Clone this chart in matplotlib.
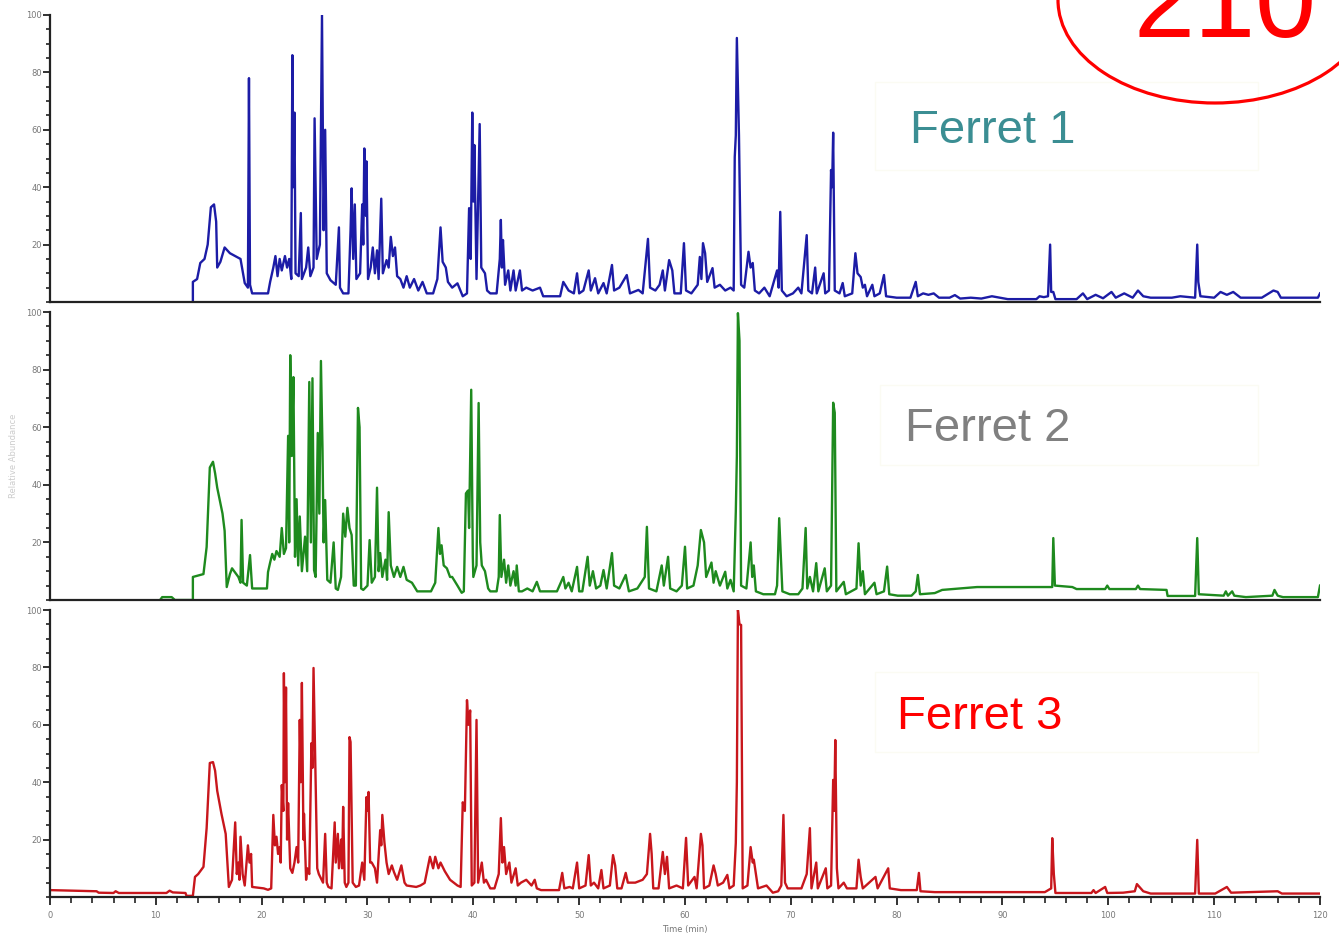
import numpy as np
import matplotlib
matplotlib.use('Agg')
import matplotlib.pyplot as plt
from matplotlib.patches import Ellipse, Rectangle
from matplotlib.ticker import MultipleLocator

# Chromatogram traces: (time in min, relative intensity)
ferret1_trace = [
    (13.5, 0), (13.5, 7), (13.9, 8), (14.2, 13.6), (14.6, 15), (14.9, 20), (15.2, 33), (15.5, 34),
    (15.7, 28), (15.8, 12), (16.1, 14), (16.5, 19), (17.0, 17), (17.5, 16), (18.0, 15), (18.4, 6.6),
    (18.7, 5), (18.8, 78), (18.9, 6), (19.1, 3), (20.6, 3), (20.8, 7), (21.1, 12), (21.3, 16),
    (21.5, 9), (21.7, 15), (21.9, 11), (22.2, 16), (22.4, 12), (22.6, 15), (22.8, 8), (22.9, 86),
    (23.0, 40), (23.1, 66), (23.2, 10), (23.5, 9), (23.7, 31), (23.8, 8), (24.2, 12), (24.4, 19),
    (24.6, 9), (24.9, 12), (25.0, 64), (25.2, 15), (25.5, 20), (25.7, 100), (25.85, 25), (26.0, 60),
    (26.15, 10), (26.5, 7.6), (27.0, 6), (27.3, 26), (27.4, 5), (27.7, 3), (28.2, 3), (28.4, 25),
    (28.5, 39.6), (28.65, 15), (28.8, 34), (28.95, 8), (29.3, 10), (29.5, 34), (29.6, 20), (29.7, 53.5),
    (29.85, 30), (29.9, 49), (30.05, 8), (30.3, 12), (30.5, 19), (30.7, 10), (30.9, 18), (31.05, 8),
    (31.3, 36), (31.45, 10), (31.8, 14.6), (32.0, 12), (32.2, 22.7), (32.4, 16), (32.6, 19), (32.8, 9),
    (33.1, 8), (33.4, 5), (33.7, 9), (34.0, 5), (34.4, 8), (34.8, 4), (35.2, 7), (35.6, 3),
    (36.2, 3), (36.6, 8), (36.9, 26), (37.1, 14), (37.4, 12), (37.6, 7), (38.0, 5), (38.5, 6.5),
    (39.0, 2), (39.4, 3), (39.6, 32.7), (39.75, 15), (39.9, 66), (40.0, 35), (40.1, 54.7), (40.3, 8),
    (40.6, 62), (40.75, 12), (41.1, 10), (41.3, 4), (41.6, 3), (42.2, 3), (42.5, 15), (42.6, 28.6),
    (42.7, 12), (42.8, 21.6), (43.0, 6), (43.3, 11), (43.5, 4), (43.8, 11), (44.0, 4), (44.4, 11),
    (44.6, 4), (45.0, 5), (45.6, 4), (46.3, 5), (46.6, 2), (48.2, 2), (48.5, 7), (49.0, 4),
    (49.5, 3), (49.8, 10), (50.0, 3), (50.4, 4), (50.9, 11), (51.1, 4), (51.5, 8.3), (51.8, 3),
    (52.3, 6.6), (52.6, 3), (53.1, 12.9), (53.3, 4), (53.8, 5), (54.5, 9.4), (54.8, 3), (55.6, 4.2),
    (56.0, 3), (56.4, 18), (56.5, 22), (56.7, 5), (57.2, 4), (57.6, 6), (57.9, 11), (58.1, 4),
    (58.5, 14.6), (58.8, 11), (59.0, 3), (59.6, 3), (59.9, 20.5), (60.1, 4), (60.6, 3), (61.2, 6),
    (61.4, 15.7), (61.55, 8), (61.7, 20.5), (61.9, 17), (62.1, 7), (62.6, 11.8), (62.8, 5), (63.3, 6),
    (63.8, 4), (64.3, 5), (64.6, 4), (64.7, 50.5), (64.8, 58), (64.9, 92), (65.0, 75), (65.1, 58),
    (65.3, 6), (65.6, 5), (66.0, 17.5), (66.2, 12), (66.4, 13.6), (66.6, 4), (67.0, 3), (67.5, 5),
    (68.0, 2), (68.7, 11), (68.85, 5), (69.0, 31.4), (69.15, 4), (69.6, 2), (70.2, 3), (70.7, 5),
    (71.0, 3), (71.5, 23.3), (71.65, 4), (72.0, 3), (72.3, 12), (72.45, 3), (73.1, 10), (73.25, 3),
    (73.6, 4), (73.8, 46), (73.9, 40), (74.0, 59), (74.15, 4), (74.6, 3), (74.9, 6.6), (75.1, 2),
    (75.8, 3), (76.1, 17), (76.3, 10), (76.6, 8.7), (76.8, 5), (77.0, 6), (77.2, 2), (77.7, 6),
    (77.9, 2), (78.4, 3), (78.8, 9.4), (79.0, 2), (80.0, 1.5), (81.3, 1.5), (81.8, 7), (82.0, 2),
    (82.5, 3), (83.0, 2.5), (83.5, 3), (84.0, 1.5), (85.0, 1.5), (85.5, 2.4), (86.0, 1.2), (87.0, 1.5),
    (88.0, 1.2), (89.0, 2), (90.5, 1), (93.2, 1), (93.5, 2), (93.9, 1.7), (94.3, 2), (94.5, 20),
    (94.6, 3.5), (94.8, 3.5), (95.0, 1), (97.0, 1), (97.6, 3), (98.0, 1), (98.8, 2.5), (99.5, 1.3),
    (100.3, 3.5), (100.7, 1.5), (101.5, 3), (102.3, 1.5), (102.8, 4), (103.3, 2), (104.0, 1.5), (106.0, 1.5),
    (106.8, 2), (108.2, 1.5), (108.4, 20), (108.5, 7), (108.7, 2), (110.0, 1.5), (110.6, 3.5), (111.2, 2.5),
    (111.8, 3.5), (112.5, 1.5), (114.5, 1.5), (115.6, 4), (116.0, 3.5), (116.3, 1.5), (118.0, 1.5), (119.8, 1.5),
    (120.0, 3),
]

ferret2_trace = [
    (10.4, 0), (10.6, 1), (11.5, 1), (11.8, 0), (13.5, 0), (13.5, 8), (14.0, 8.5), (14.5, 9),
    (14.8, 18.4), (15.1, 46), (15.4, 48), (15.6, 44), (15.8, 39), (16.3, 30), (16.5, 24), (16.7, 4.5),
    (17.0, 9), (17.2, 11), (17.8, 8), (18.0, 6), (18.1, 27.8), (18.25, 6), (18.6, 5), (18.9, 15.6),
    (19.1, 4), (20.5, 4), (20.6, 9.7), (20.8, 13), (21.0, 16), (21.2, 14), (21.4, 17), (21.7, 15),
    (21.9, 25), (22.1, 16), (22.3, 18), (22.5, 57), (22.6, 20), (22.7, 85), (22.85, 50), (23.0, 77.4),
    (23.15, 15), (23.3, 35), (23.45, 12), (23.6, 29), (23.8, 10), (24.1, 22), (24.3, 10), (24.5, 75.7),
    (24.65, 20), (24.8, 77), (24.95, 10.4), (25.1, 8), (25.3, 58), (25.45, 30), (25.6, 83), (25.75, 52),
    (25.85, 20), (26.0, 34.7), (26.2, 7), (26.5, 6), (26.8, 20), (27.0, 4), (27.2, 3.5), (27.5, 8),
    (27.7, 30), (27.9, 22), (28.1, 32), (28.3, 25), (28.5, 22.6), (28.7, 5), (28.9, 5), (29.1, 66.7),
    (29.25, 60), (29.4, 4), (29.6, 3.5), (30.0, 5), (30.2, 20.8), (30.4, 6), (30.7, 8), (30.9, 39),
    (31.05, 10), (31.2, 16.3), (31.4, 8), (31.7, 14), (31.85, 7), (32.0, 30.5), (32.2, 12), (32.5, 8),
    (32.8, 11.5), (33.1, 8), (33.4, 11.5), (33.7, 7), (34.2, 6), (34.7, 3), (35.6, 3), (36.0, 3),
    (36.4, 6), (36.7, 25), (36.85, 16), (37.0, 19), (37.2, 12), (37.5, 11), (37.8, 8), (38.0, 8),
    (38.5, 5), (38.9, 2.5), (39.1, 3), (39.3, 37), (39.5, 38), (39.6, 25), (39.8, 73), (39.95, 15),
    (40.0, 8), (40.3, 12), (40.5, 68.4), (40.65, 20), (40.8, 12), (41.1, 10), (41.4, 4), (41.6, 3),
    (42.2, 3), (42.4, 8), (42.5, 29.5), (42.65, 8), (42.9, 14), (43.1, 6), (43.3, 12), (43.5, 5),
    (43.8, 10), (44.0, 5), (44.1, 12), (44.3, 3), (44.6, 3), (45.1, 4), (45.6, 3), (46.0, 6.3),
    (46.3, 3), (47.9, 3), (48.5, 8), (48.7, 4), (49.0, 6), (49.3, 3), (49.8, 11.5), (50.0, 3),
    (50.3, 3), (50.8, 15), (51.0, 5), (51.3, 10), (51.6, 4), (52.0, 5), (52.3, 10.4), (52.6, 4),
    (53.1, 16.3), (53.3, 5), (53.8, 4), (54.4, 8.7), (54.7, 3), (55.5, 4), (56.2, 8), (56.4, 25.4),
    (56.6, 4), (57.3, 3), (57.8, 12), (58.0, 5), (58.4, 15), (58.6, 4), (59.2, 3), (59.7, 5),
    (60.0, 18.5), (60.2, 4), (60.8, 5), (61.2, 12), (61.5, 24.3), (61.8, 20), (62.0, 8), (62.5, 13),
    (62.7, 6), (62.9, 10), (63.3, 5), (63.8, 9.8), (64.0, 4), (64.3, 7), (64.6, 3), (64.8, 30.6),
    (64.9, 50), (65.0, 99.6), (65.15, 90), (65.3, 5), (65.8, 4), (66.2, 20), (66.35, 8), (66.5, 12),
    (66.7, 3), (67.4, 2), (68.5, 2), (68.7, 5), (68.9, 28.4), (69.0, 20), (69.2, 3), (69.9, 2),
    (70.7, 2), (71.1, 4), (71.4, 25), (71.55, 4), (71.8, 8), (72.1, 3), (72.4, 12.8), (72.6, 3),
    (73.2, 11), (73.4, 3), (73.8, 5), (74.0, 68.5), (74.15, 65), (74.3, 3), (75.0, 6.3), (75.2, 2),
    (76.2, 4), (76.4, 19.7), (76.6, 5), (76.8, 10), (77.0, 2), (77.9, 6), (78.1, 2), (78.8, 3),
    (79.1, 11.6), (79.3, 2), (80.1, 1.5), (81.4, 1.5), (81.8, 3), (82.0, 8.7), (82.2, 2), (83.6, 2.4),
    (84.3, 3.5), (86.0, 4), (87.6, 4.5), (90.0, 4.5), (94.0, 4.5), (94.7, 4.5), (94.8, 21.5), (94.95, 5),
    (96.6, 4.5), (97.0, 3.8), (99.7, 3.8), (99.9, 5), (100.1, 3.8), (102.6, 3.8), (102.8, 5), (103.0, 3.8),
    (105.5, 3.5), (105.6, 1.4), (108.2, 1.4), (108.4, 21.5), (108.55, 2), (110.9, 1.5), (111.1, 3), (111.3, 1.5),
    (111.7, 3), (111.9, 1.5), (113.0, 1), (115.5, 1.5), (115.7, 3.5), (116.0, 1.5), (116.5, 1), (119.8, 1),
    (120.0, 5),
]

ferret3_trace = [
    (0.0, 2.4), (4.4, 2), (4.6, 1.5), (6.0, 1.4), (6.2, 2), (6.5, 1.4), (11.0, 1.4), (11.3, 2.2),
    (11.6, 1.6), (12.8, 1.4), (12.9, 0.4), (13.5, 0.4), (13.7, 7), (14.0, 8), (14.5, 10.5), (14.8, 24),
    (15.1, 46.7), (15.4, 47), (15.6, 44), (15.8, 37), (16.2, 29), (16.6, 22), (16.9, 3.5), (17.2, 6),
    (17.5, 26), (17.65, 8), (17.8, 12), (17.9, 6), (18.0, 21), (18.2, 8), (18.4, 4), (18.7, 18),
    (18.85, 12), (19.0, 15), (19.1, 3.5), (20.2, 3), (20.6, 2.5), (20.9, 3), (21.1, 28.6), (21.25, 18),
    (21.4, 21), (21.55, 15), (21.7, 17.4), (21.8, 12), (21.9, 39), (22.05, 30), (22.1, 78), (22.2, 40),
    (22.3, 73), (22.4, 20), (22.5, 32.7), (22.7, 10), (22.9, 8.4), (23.1, 12), (23.3, 17.4), (23.45, 12),
    (23.6, 61.7), (23.7, 40), (23.8, 74.6), (23.95, 20), (24.0, 29), (24.2, 6), (24.3, 10), (24.5, 8),
    (24.7, 53.6), (24.8, 45), (24.9, 79.8), (25.0, 60), (25.1, 40.8), (25.25, 10), (25.4, 8), (25.8, 5),
    (26.0, 22), (26.15, 5), (26.3, 3.5), (26.6, 3), (26.9, 26), (27.0, 12), (27.2, 22), (27.3, 10),
    (27.5, 20), (27.6, 10), (27.7, 31.4), (27.85, 5), (28.0, 3.5), (28.2, 5), (28.3, 55.7), (28.4, 54),
    (28.6, 5), (28.9, 3.5), (29.2, 4), (29.5, 12), (29.7, 6), (29.9, 34.8), (30.0, 30), (30.1, 36.6),
    (30.25, 12), (30.4, 12), (30.7, 10), (30.9, 5), (31.2, 23.3), (31.3, 18), (31.4, 28.6), (31.6, 19),
    (31.8, 12), (32.0, 8), (32.3, 11), (32.5, 8.7), (32.8, 6), (33.2, 11), (33.5, 5), (33.7, 4),
    (34.6, 3.5), (35.0, 4), (35.4, 4.9), (35.9, 14), (36.2, 10), (36.4, 14), (36.7, 10), (36.9, 12),
    (37.3, 9), (37.8, 6), (38.5, 4), (38.8, 3.5), (39.0, 33), (39.2, 30), (39.4, 68.6), (39.55, 60),
    (39.7, 65), (39.85, 4), (40.1, 5), (40.3, 61.7), (40.45, 5), (40.8, 12), (41.0, 5), (41.2, 6),
    (41.6, 3), (42.0, 3), (42.4, 8), (42.6, 27.5), (42.75, 12), (42.9, 17.4), (43.1, 8), (43.4, 12),
    (43.6, 5), (44.0, 10), (44.2, 4), (44.5, 5), (45.0, 6), (45.5, 4), (45.8, 6), (46.0, 3),
    (46.4, 2.4), (48.1, 2.4), (48.4, 8.4), (48.6, 3), (49.1, 3.5), (49.4, 3), (49.8, 12), (50.0, 3),
    (50.6, 4), (50.9, 14.6), (51.1, 4), (51.4, 5), (51.8, 3), (52.1, 9.4), (52.3, 3), (52.9, 4),
    (53.2, 14.6), (53.4, 11), (53.6, 3), (54.0, 3), (54.4, 8.4), (54.6, 5), (55.3, 5), (56.0, 6),
    (56.4, 8), (56.7, 22), (56.85, 15), (57.0, 3), (57.5, 3), (57.9, 15.7), (58.1, 8), (58.3, 14),
    (58.5, 3), (59.2, 4), (59.8, 3), (60.1, 20.6), (60.3, 4), (60.9, 7), (61.1, 3), (61.5, 22),
    (61.65, 18), (61.8, 3), (62.3, 4), (62.7, 11), (62.9, 8), (63.1, 4), (63.6, 5), (64.0, 7.7),
    (64.2, 3), (64.6, 4), (64.8, 18.8), (64.9, 40), (65.0, 100), (65.15, 95), (65.3, 94.8), (65.45, 3),
    (65.9, 4), (66.2, 17.4), (66.4, 12), (66.5, 13), (66.7, 8), (66.9, 3), (67.7, 4), (68.3, 1.5),
    (68.8, 2), (69.1, 4), (69.3, 28.6), (69.45, 5), (69.7, 3), (71.0, 3), (71.5, 8), (71.8, 24),
    (71.95, 3), (72.4, 12), (72.55, 3), (73.3, 10), (73.45, 3), (73.8, 4), (74.0, 40.8), (74.1, 30),
    (74.2, 54.7), (74.35, 10), (74.5, 3), (75.0, 5), (75.3, 3), (76.2, 3), (76.4, 13), (76.6, 7),
    (76.8, 3), (78.0, 7), (78.2, 3), (79.2, 10), (79.35, 3), (80.4, 2.4), (81.9, 2.4), (82.1, 8.4),
    (82.25, 2), (83.6, 1.7), (94.0, 1.7), (94.6, 3), (94.7, 20.5), (94.85, 8), (95.0, 1.4), (98.4, 1.4),
    (98.6, 2.4), (98.8, 1.4), (99.7, 3.5), (99.9, 1.4), (101.4, 1.5), (102.5, 2), (102.7, 4.5), (103.3, 2),
    (104.0, 1.2), (106.3, 1.2), (108.2, 1.2), (108.4, 19.9), (108.55, 1.2), (110.1, 1.2), (111.2, 3.5), (111.6, 1.5),
    (116.0, 2), (116.4, 1.2), (120.0, 1.2),
]

panel_names = ['Ferret 1', 'Ferret 2', 'Ferret 3']
line_colors = ['#1c1ca6', '#1e8a1e', '#c8161c']
name_colors = ['#3b8e93', '#808080', '#ff0000']
y_ticks = [20, 40, 60, 80, 100]
x_ticks = list(range(0, 121, 10))
wavelength = '210'

W, H = 1339, 948
fig = plt.figure(figsize=(W / 100, H / 100), dpi=100)
fig.patch.set_facecolor('white')

# panel extents in pixels (top, bottom)
left_px, right_px = 50, 1320
panel_px = [(15, 302), (312, 600), (610, 897)]

traces = [ferret1_trace, ferret2_trace, ferret3_trace]
axes = []
for i, (top, bot) in enumerate(panel_px):
    ax = fig.add_axes([left_px / W, 1 - bot / H, (right_px - left_px) / W, (bot - top) / H])
    t, y = np.array(traces[i]).T
    ax.plot(t, y, color=line_colors[i], linewidth=1.7, zorder=2)
    ax.set_xlim(0, 120)
    ax.set_ylim(0, 100)
    for s in ['top', 'right']:
        ax.spines[s].set_visible(False)
    for s in ['left', 'bottom']:
        ax.spines[s].set_linewidth(1.6)
        ax.spines[s].set_color('#222222')
    ax.set_yticks(y_ticks)
    ax.yaxis.set_minor_locator(MultipleLocator(5))
    ax.tick_params(axis='y', which='major', length=5, width=1.3, color='#222222',
                   labelsize=6, labelcolor='#777777', pad=1)
    ax.tick_params(axis='y', which='minor', length=3, width=1.2, color='#222222')
    ax.patch.set_alpha(0)
    if i < 2:
        ax.set_xticks([])
    else:
        ax.set_xticks(x_ticks)
        ax.xaxis.set_minor_locator(MultipleLocator(2))
        ax.tick_params(axis='x', which='major', length=6, width=1.3, color='#222222',
                       labelsize=6, labelcolor='#777777', pad=4)
        ax.tick_params(axis='x', which='minor', length=4, width=1.2, color='#222222')
        ax.set_xlabel('Time (min)', fontsize=6, color='#777777', labelpad=4)
    axes.append(ax)

axes[1].set_ylabel('Relative Abundance', fontsize=6, color='#cccccc', labelpad=6)

# overlay in pixel coordinates for the labels and the circled wavelength
over = fig.add_axes([0, 0, 1, 1], zorder=5)
over.set_xlim(0, W)
over.set_ylim(H, 0)
over.axis('off')
over.patch.set_alpha(0)

label_pos = [(910, 143), (905, 441), (897, 729)]
box_px = [(875, 82, 383, 88), (880, 385, 378, 80), (875, 672, 383, 80)]
for i, name in enumerate(panel_names):
    bx, by, bw, bh = box_px[i]
    over.add_patch(Rectangle((bx, by), bw, bh, facecolor='white', edgecolor='#fbfbf3', linewidth=1))
    over.text(label_pos[i][0], label_pos[i][1], name, fontsize=34, color=name_colors[i],
              family='Liberation Sans', ha='left', va='baseline')

over.add_patch(Ellipse((1215, 0), 314, 206, facecolor='none', edgecolor='#ff0000', linewidth=2.3))
over.text(1225, 37, wavelength, fontsize=79, color='#ff0000', family='Liberation Sans',
          ha='center', va='baseline')

fig.savefig('out.png', dpi=100)
